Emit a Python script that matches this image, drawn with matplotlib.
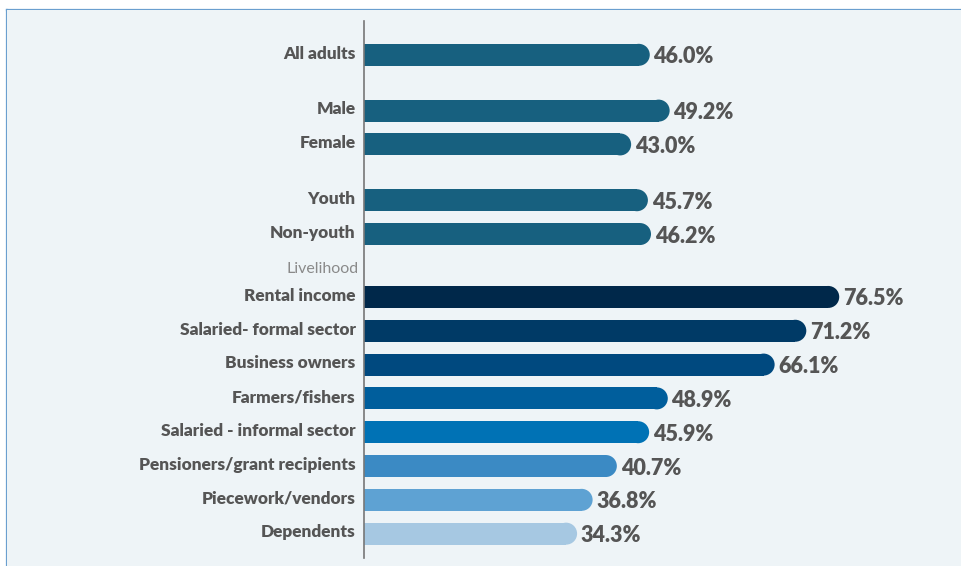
import matplotlib.pyplot as plt
from matplotlib.patches import Ellipse, Rectangle

plt.rcParams['font.family'] = ['Lato', 'DejaVu Sans']

labels = ['All adults', 'Male', 'Female', 'Youth', 'Non-youth',
          'Rental income', 'Salaried- formal sector', 'Business owners',
          'Farmers/fishers', 'Salaried - informal sector',
          'Pensioners/grant recipients', 'Piecework/vendors', 'Dependents']
values = [46.0, 49.2, 43.0, 45.7, 46.2,
          76.5, 71.2, 66.1, 48.9, 45.9, 40.7, 36.8, 34.3]
colors = ['#17607f', '#17607f', '#17607f', '#17607f', '#17607f',
          '#00284a', '#003a66', '#00497f', '#005e9c', '#0072b5',
          '#3b8ac4', '#5ea2d3', '#a6c8e2']

# row layout: extra space between the groups, sub-heading before livelihood
ypos = [0, 1.65, 2.65, 4.3, 5.3,
        7.16, 8.16, 9.16, 10.16, 11.16, 12.16, 13.16, 14.16]
heading_y = 6.33
bar_h = 0.65
text_col = '#555555'

fig = plt.figure(figsize=(9.61, 5.66), dpi=100)
fig.patch.set_facecolor('white')

# panel background with a blue rule on top and left
fig.patches.append(Rectangle((7 / 961, 0), 1, (566 - 10) / 566, transform=fig.transFigure,
                             facecolor='#eef4f7', edgecolor='none', zorder=-1))
fig.lines.append(plt.Line2D([7 / 961, 1], [556 / 566, 556 / 566], transform=fig.transFigure,
                            color='#6a9fcf', lw=1.6, zorder=-1))
fig.lines.append(plt.Line2D([7 / 961, 7 / 961], [0, 556 / 566], transform=fig.transFigure,
                            color='#6a9fcf', lw=1.6, zorder=-1))

ax = fig.add_axes([364 / 961, 8 / 566, (961 - 364) / 961, (558 - 21) / 566])
ax.set_facecolor('none')
ax.set_xlim(0, 96.1)
ax.set_ylim(14.88, -1.0)

# radius of the rounded bar end, in x data units
px_per_x = ax.transData.transform((1, 0))[0] - ax.transData.transform((0, 0))[0]
px_per_y = abs(ax.transData.transform((0, 1))[1] - ax.transData.transform((0, 0))[1])
r = bar_h * px_per_y / 2 / px_per_x

for y, v, c in zip(ypos, values, colors):
    ax.barh(y, v - r, height=bar_h, left=0, color=c, linewidth=0)
    ax.add_patch(Ellipse((v - r, y), 2 * r, bar_h, facecolor=c, edgecolor='none'))
    ax.text(v + 0.6, y + 0.06, f'{v:.1f}%', va='center', ha='left', fontsize=15.5,
            fontweight='heavy', color=text_col)

ax.set_yticks([y - 0.08 for y in ypos])
ax.set_yticklabels(labels, fontsize=12.4, fontweight='heavy', color=text_col)
ax.tick_params(axis='y', length=0, pad=6)
ax.set_xticks([])
ax.text(-0.9, heading_y, 'Livelihood', ha='right', va='center', fontsize=11.5,
        fontweight='normal', color='#8a8a8a')

for s in ['top', 'right', 'bottom']:
    ax.spines[s].set_visible(False)
ax.spines['left'].set_color('#777777')
ax.spines['left'].set_linewidth(1.2)

fig.savefig('out.png', dpi=100)
